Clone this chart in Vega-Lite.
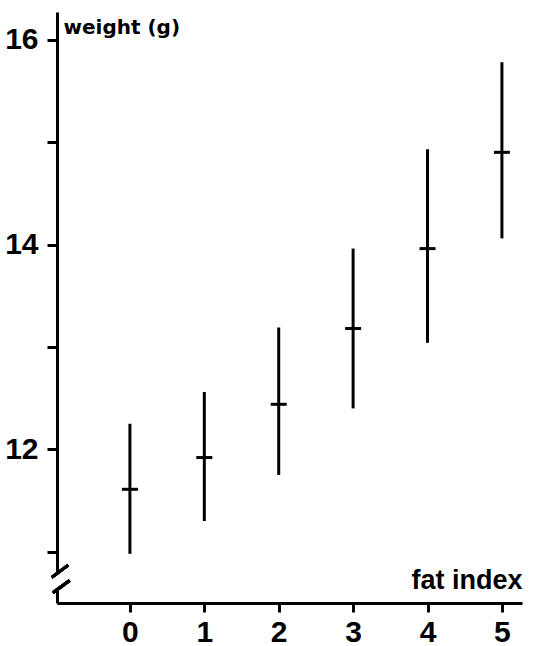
{
  "$schema": "https://vega.github.io/schema/vega-lite/v6.json",
  "width": 465,
  "height": 591,
  "autosize": {"type": "none"},
  "padding": {"left": 57, "top": 12, "right": 26, "bottom": 43},
  "background": "white",
  "config": {
    "view": {"stroke": null},
    "axis": {
      "labelFont": "Liberation Sans, sans-serif",
      "labelFontWeight": "bold",
      "labelFontSize": 30,
      "labelColor": "black",
      "titleColor": "black",
      "tickColor": "black",
      "domainColor": "black",
      "grid": false
    }
  },
  "data": {
    "values": [
      {"fat": 0, "mean": 11.61, "low": 10.98, "high": 12.25},
      {"fat": 1, "mean": 11.92, "low": 11.30, "high": 12.56},
      {"fat": 2, "mean": 12.44, "low": 11.75, "high": 13.19},
      {"fat": 3, "mean": 13.18, "low": 12.40, "high": 13.96},
      {"fat": 4, "mean": 13.96, "low": 13.04, "high": 14.93},
      {"fat": 5, "mean": 14.90, "low": 14.06, "high": 15.78}
    ]
  },
  "layer": [
    {
      "mark": {"type": "rule", "color": "black", "strokeWidth": 3},
      "encoding": {
        "x": {
          "field": "fat",
          "type": "quantitative",
          "scale": {"domain": [-0.98, 5.27], "nice": false, "zero": false},
          "axis": {
            "values": [0, 1, 2, 3, 4, 5],
            "format": "d",
            "domainWidth": 3,
            "tickWidth": 3,
            "tickSize": 9,
            "labelPadding": 5,
            "labelBaseline": "top",
            "title": "fat index",
            "titleFont": "Liberation Sans, sans-serif",
            "titleFontWeight": "bold",
            "titleFontSize": 27,
            "titleAnchor": "end",
            "titleAlign": "right",
            "titleBaseline": "alphabetic",
            "titleY": -15,
            "titleX": 465
          }
        },
        "y": {
          "field": "low",
          "type": "quantitative",
          "scale": {"domain": [10.5, 16.27], "nice": false, "zero": false},
          "axis": {
            "values": [11, 12, 13, 14, 15, 16],
            "format": "d",
            "labelExpr": "datum.value % 2 == 0 ? datum.label : ''",
            "domainWidth": 3,
            "tickWidth": 3,
            "tickSize": 10,
            "labelPadding": 9,
            "title": "weight (g)",
            "titleFont": "DejaVu Sans, sans-serif",
            "titleFontWeight": "bold",
            "titleFontSize": 20,
            "titleAngle": 0,
            "titleAnchor": "start",
            "titleAlign": "left",
            "titleBaseline": "alphabetic",
            "titleX": 6,
            "titleY": 21
          }
        },
        "y2": {"field": "high"}
      }
    },
    {
      "mark": {"type": "tick", "color": "black", "opacity": 1, "orient": "horizontal", "size": 16, "thickness": 3},
      "encoding": {
        "x": {"field": "fat", "type": "quantitative"},
        "y": {"field": "mean", "type": "quantitative"}
      }
    },
    {
      "mark": {"type": "rect", "color": "white"},
      "encoding": {
        "x": {"datum": -1.0},
        "x2": {"datum": -0.955},
        "y": {"datum": 10.65},
        "y2": {"datum": 10.79}
      }
    },
    {
      "mark": {"type": "rule", "color": "black", "strokeWidth": 3},
      "encoding": {
        "x": {"datum": -1.05},
        "x2": {"datum": -0.83},
        "y": {"datum": 10.75},
        "y2": {"datum": 10.87}
      }
    },
    {
      "mark": {"type": "rule", "color": "black", "strokeWidth": 3},
      "encoding": {
        "x": {"datum": -1.035},
        "x2": {"datum": -0.81},
        "y": {"datum": 10.60},
        "y2": {"datum": 10.72}
      }
    }
  ]
}
